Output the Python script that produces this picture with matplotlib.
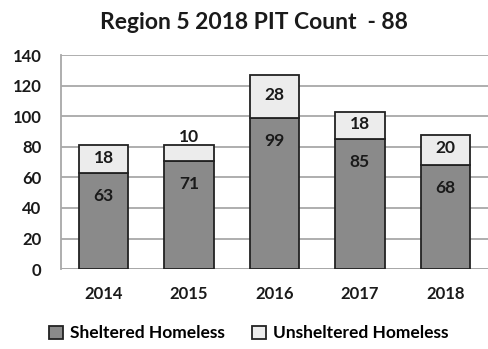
import numpy as np
import matplotlib.pyplot as plt

years = ['2014', '2015', '2016', '2017', '2018']
sheltered = [63, 71, 99, 85, 68]
unsheltered = [18, 10, 28, 18, 20]

plt.rcParams['font.family'] = ['Lato', 'DejaVu Sans']

fig = plt.figure(figsize=(4.88, 3.49), dpi=100)
ax = fig.add_axes([0.125, 0.229, 0.875, 0.613])

x = np.arange(len(years))
w = 0.58
b1 = ax.bar(x, sheltered, w, color='#8a8a8a', edgecolor='#222222', linewidth=1.3,
            label='Sheltered Homeless', zorder=3)
b2 = ax.bar(x, unsheltered, w, bottom=sheltered, color='#ececec', edgecolor='#222222',
            linewidth=1.3, label='Unsheltered Homeless', zorder=3)

# value labels
for i in range(len(years)):
    ax.text(x[i], sheltered[i] - 15, str(sheltered[i]), ha='center', va='center',
            fontsize=12.5, fontweight='bold', color='#1a1a1a', zorder=4)
    top = sheltered[i] + unsheltered[i]
    if unsheltered[i] < 14:
        ax.text(x[i], top + 5.5, str(unsheltered[i]), ha='center', va='center',
                fontsize=12.5, fontweight='bold', color='#1a1a1a', zorder=4)
    else:
        ax.text(x[i], sheltered[i] + unsheltered[i] / 2 + 1, str(unsheltered[i]),
                ha='center', va='center', fontsize=12.5, fontweight='bold',
                color='#1a1a1a', zorder=4)

ax.set_xlim(-0.5, 4.5)
ax.set_ylim(0, 140)
ax.set_yticks(range(0, 141, 20))
ax.set_xticks(x)
ax.set_xticklabels(years)
ax.yaxis.grid(True, color='#a8a8a8', linewidth=1.3, zorder=0)
ax.set_axisbelow(True)
for s in ['top', 'right', 'bottom']:
    ax.spines[s].set_visible(False)
ax.spines['left'].set_color('#a8a8a8')
ax.spines['left'].set_linewidth(1.3)
ax.axhline(0, color='#a8a8a8', linewidth=1.3, zorder=1)
ax.tick_params(axis='both', length=0, labelsize=12, colors='#1a1a1a')
ax.tick_params(axis='y', pad=14)
ax.tick_params(axis='x', pad=12)
for lab in ax.get_xticklabels() + ax.get_yticklabels():
    lab.set_fontweight('bold')

fig.text(0.52, 0.935, 'Region 5 2018 PIT Count  - 88', ha='center', va='center',
         fontsize=16.5, fontweight='bold', color='#1a1a1a')

fig.legend(handles=[b1, b2], loc='center', bbox_to_anchor=(0.51, 0.045), ncol=2,
           frameon=False, handlelength=0.8, handleheight=0.8,
           columnspacing=1.6, handletextpad=0.4,
           prop={'weight': 'bold', 'size': 12.5})

fig.savefig('out.png', dpi=100)
